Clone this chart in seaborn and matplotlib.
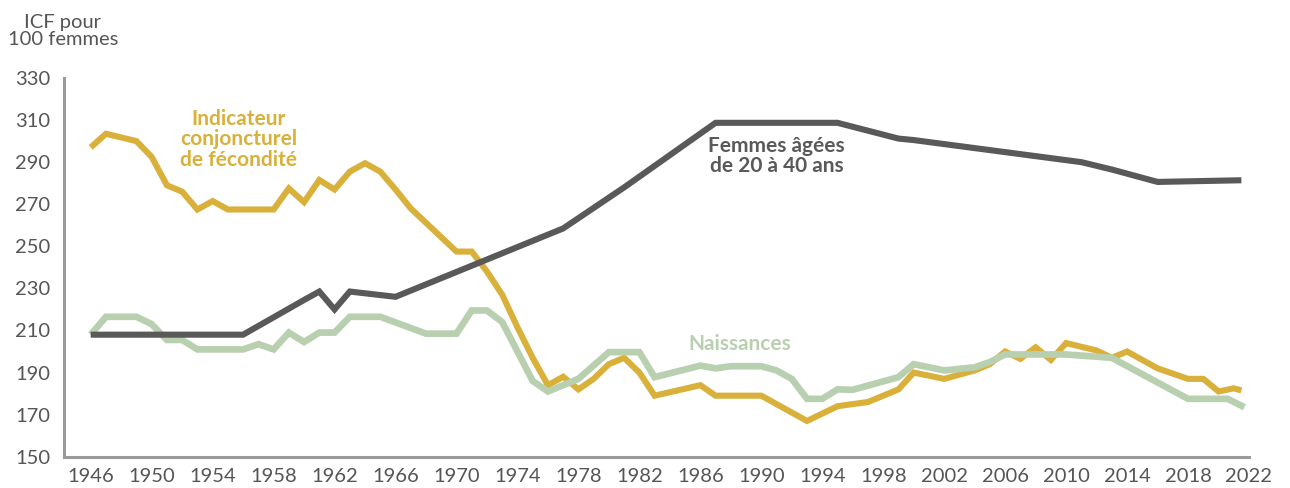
import matplotlib
matplotlib.use("Agg")
import matplotlib.pyplot as plt
import seaborn as sns
import pandas as pd

# Indicateur conjoncturel de fécondité (pour 100 femmes)
icf_annees = [1946, 1947, 1949, 1950, 1951, 1952, 1953, 1954, 1955, 1958, 1959, 1960,
              1961, 1962, 1963, 1964, 1965, 1966, 1967, 1970, 1971, 1972, 1973, 1974,
              1975, 1976, 1977, 1978, 1979, 1980, 1981, 1982, 1983, 1986, 1987, 1990,
              1991, 1993, 1995, 1997, 1999, 2000, 2002, 2004, 2005, 2006, 2007, 2008,
              2009, 2010, 2012, 2013, 2014, 2016, 2018, 2019, 2020, 2021, 2021.5]
icf_valeurs = [297, 303.5, 300, 292.5, 279, 276, 267.5, 271.5, 267.5, 267.5, 277.5, 271,
               281.5, 277, 285.5, 289.5, 285.5, 277, 268, 247.5, 247.5, 238, 227, 211.5,
               197, 184, 188, 182, 187, 194, 197, 190, 179, 184, 179, 179,
               175, 167, 174, 176, 182, 190, 187, 191, 194, 200, 196.5, 202,
               196, 204, 200.5, 197, 200, 192, 187, 187, 181, 182.5, 181.5]

# Naissances (base 100 femmes)
naiss_annees = [1946, 1947, 1949, 1950, 1951, 1952, 1953, 1956, 1957, 1958, 1959, 1960,
                1961, 1962, 1963, 1965, 1968, 1970, 1971, 1972, 1973, 1975, 1976, 1978,
                1980, 1982, 1983, 1986, 1987, 1988, 1990, 1991, 1992, 1993, 1994, 1995,
                1996, 1999, 2000, 2002, 2004, 2005, 2006, 2010, 2013, 2018, 2020.6, 2021.7]
naiss_valeurs = [208, 216.5, 216.5, 213, 205.5, 205.5, 201, 201, 203.5, 201, 209, 204.5,
                 209, 209, 216.5, 216.5, 208.5, 208.5, 219.5, 219.5, 214, 186, 181, 187,
                 199.7, 199.7, 187.8, 193.3, 192, 193, 193, 191, 187, 177.5, 177.5, 182,
                 181.8, 187.8, 194, 191, 192.5, 195, 198.6, 198.6, 197, 177.5, 177.5, 173.5]

# Femmes âgées de 20 à 40 ans
femmes_annees = [1946, 1956, 1960, 1961, 1962, 1963, 1966, 1977, 1981, 1987, 1995, 1999,
                 2000, 2011, 2013, 2016, 2021.5]
femmes_valeurs = [208, 208, 224.5, 228.5, 220, 228.5, 226, 258.5, 278, 308.7, 308.7, 301.2,
                  300.5, 290, 286.5, 280.6, 281.4]

y_ticks = [150, 170, 190, 210, 230, 250, 270, 290, 310, 330]
x_ticks = list(range(1946, 2023, 4))

jaune = "#d9b03a"
vert = "#b8cfb0"
gris = "#595959"
gris_axe = "#9a9a9a"
gris_texte = "#555555"

sns.set_style("white")
plt.rcParams["font.family"] = ["Lato", "DejaVu Sans"]

fig = plt.figure(figsize=(12.9, 4.88), dpi=100)
ax = fig.add_axes([64 / 1290, 1 - 456.7 / 488, (1249 - 64) / 1290, (456.7 - 78) / 488])

df_icf = pd.DataFrame({"annee": icf_annees, "valeur": icf_valeurs})
df_naiss = pd.DataFrame({"annee": naiss_annees, "valeur": naiss_valeurs})
df_femmes = pd.DataFrame({"annee": femmes_annees, "valeur": femmes_valeurs})

style = dict(solid_joinstyle="miter", solid_capstyle="butt")
sns.lineplot(data=df_icf, x="annee", y="valeur", color=jaune, lw=4.4, ax=ax, **style)
sns.lineplot(data=df_naiss, x="annee", y="valeur", color=vert, lw=4.8, ax=ax, **style)
sns.lineplot(data=df_femmes, x="annee", y="valeur", color=gris, lw=4.4, ax=ax, **style)

ax.set_xlim(1946 - 26.7 / 15.24, 2022)
ax.set_ylim(150, 330)
ax.set_xticks(x_ticks)
ax.set_yticks(y_ticks)
ax.set_xlabel("")
ax.set_ylabel("")

for s in ["top", "right"]:
    ax.spines[s].set_visible(False)
for s in ["left", "bottom"]:
    ax.spines[s].set_color(gris_axe)
    ax.spines[s].set_linewidth(2.2)
    ax.spines[s].set_capstyle("projecting")

ax.tick_params(axis="both", direction="in", length=13.5, width=2.2, color=gris_axe,
               labelcolor=gris_texte, labelsize=14.5)
ax.tick_params(axis="y", pad=10)
ax.tick_params(axis="x", pad=8)

ax.text(1955.7, 300.8, "Indicateur\nconjoncturel\nde fécondité", color=jaune,
        fontsize=15, fontweight="bold", ha="center", va="center", linespacing=1.05)
ax.text(1991.0, 292.9, "Femmes âgées\nde 20 à 40 ans", color=gris,
        fontsize=15, fontweight="bold", ha="center", va="center", linespacing=1.05)
ax.text(1988.6, 203.7, "Naissances", color=vert,
        fontsize=15, fontweight="bold", ha="center", va="center")

fig.text(63 / 1290, 1 - 31 / 488, "ICF pour\n100 femmes", color=gris_texte,
         fontsize=14.5, ha="center", va="center", linespacing=1.05)

fig.savefig("out.png", dpi=100)
